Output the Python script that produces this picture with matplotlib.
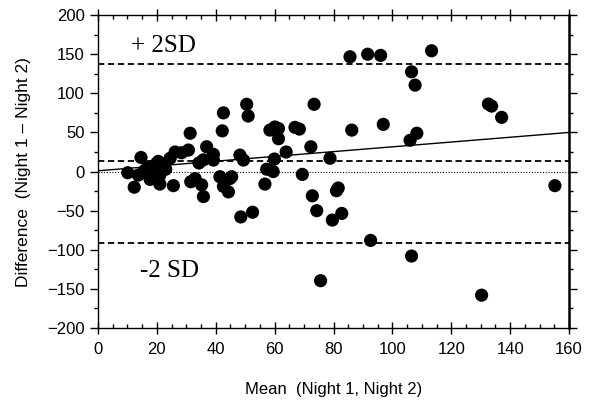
import matplotlib
matplotlib.use("Agg")
import matplotlib.pyplot as plt
from matplotlib.ticker import MultipleLocator

# mean of the two nights (x) and their difference (y)
mean_vals = [10.1, 12.3, 14.6, 13.7, 16.0, 17.1, 17.7, 18.8, 19.9, 21.0,
             21.0, 20.5, 22.5, 24.5, 25.6, 26.2, 28.4, 30.7, 31.3, 31.5,
             33.0, 35.2, 35.8, 34.3, 35.8, 36.9, 39.2, 39.2, 41.4, 42.6,
             44.3, 45.4, 44.8, 42.6, 42.2, 48.2, 49.4, 48.5, 52.5, 50.5,
             51.0, 56.7, 57.3, 59.5, 58.4, 60.1, 61.3, 61.3, 59.9, 63.9,
             66.9, 68.4, 69.4, 72.3, 73.4, 72.8, 74.3, 75.6, 78.8, 79.6,
             81.0, 81.6, 82.8, 85.6, 86.2, 91.6, 92.6, 96.0, 96.9, 106.0,
             108.3, 106.5, 107.7, 106.5, 113.3, 130.3, 132.6, 133.7, 137.1, 155.2,
             15.5, 18.5, 23.0]
diff_vals = [-1.5, -20, 18, -4.5, 2, 6, -10, -4.5, 10.5, -4.5,
             -16, 13, 8, 17, -18, 25, 24, 27.5, 49, -13,
             -9, -17, -32, 11, 15, 31.7, 22, 14.7, -6.6, -19,
             -26, -6.6, -9, 75, 52, 21, 14.7, -58, -52, 86,
             71, -16, 3, 0, 53, 57, 55, 42, 16, 25,
             56.5, 54.3, -3.6, 31.7, 86, -31, -50, -139.5, 17, -62,
             -24.5, -21, -53.5, 146.7, 53, 150, -88, 148.5, 60.3, 40,
             49, 127.5, 110.5, -108, 154.4, -158, 86.3, 83.7, 69.3, -18,
             -1, 0, 3]

upper_sd = 138
mean_diff = 14
lower_sd = -91
reg_x = [0, 160]
reg_y = [1, 50]

fig = plt.figure(figsize=(5.94, 4.08), dpi=100)
ax = fig.add_axes([0.165, 0.196, 0.793, 0.767])

plt.rcParams['font.family'] = ['Liberation Sans', 'DejaVu Sans']

ax.axhline(upper_sd, color='black', lw=1.3, linestyle=(0, (3.5, 2)), zorder=1)
ax.axhline(mean_diff, color='black', lw=1.3, linestyle=(0, (3.5, 2)), zorder=1)
ax.axhline(lower_sd, color='black', lw=1.3, linestyle=(0, (3.5, 2)), zorder=1)
ax.axhline(0, color='black', lw=0.8, linestyle=(0, (1, 1.5)), zorder=1)
ax.plot(reg_x, reg_y, color='black', lw=1.0, zorder=2)

ax.scatter(mean_vals, diff_vals, s=90, color='black', edgecolors='none', zorder=3)

ax.text(22.3, 160, "+ 2SD", family=['Liberation Serif', 'DejaVu Serif'],
        fontsize=18, ha='center', va='center')
ax.text(24.4, -127, "-2 SD", family=['Liberation Serif', 'DejaVu Serif'],
        fontsize=18, ha='center', va='center')

ax.set_xlim(0, 160)
ax.set_ylim(-200, 200)
ax.xaxis.set_major_locator(MultipleLocator(20))
ax.xaxis.set_minor_locator(MultipleLocator(5))
ax.yaxis.set_major_locator(MultipleLocator(50))
ax.yaxis.set_minor_locator(MultipleLocator(25))

ax.tick_params(axis='x', which='major', direction='inout', length=8, width=1,
               top=True, labelsize=12, labelfontfamily='Liberation Sans', pad=6)
ax.tick_params(axis='x', which='minor', direction='in', length=3, width=1, top=True)
ax.tick_params(axis='y', which='major', direction='out', length=6, width=1,
               right=True, labelsize=12, labelfontfamily='Liberation Sans')
ax.tick_params(axis='y', which='minor', direction='out', length=3, width=1, right=True)

for side in ['left', 'bottom', 'top']:
    ax.spines[side].set_linewidth(1.0)
ax.spines['right'].set_linewidth(1.8)

ax.set_xlabel("Mean  (Night 1, Night 2)", fontsize=12, labelpad=18,
              family='Liberation Sans')
ax.set_ylabel("Difference  (Night 1 \u2013 Night 2)", fontsize=12.5, labelpad=12,
              family='Liberation Sans')

fig.savefig("out.png", dpi=100)
